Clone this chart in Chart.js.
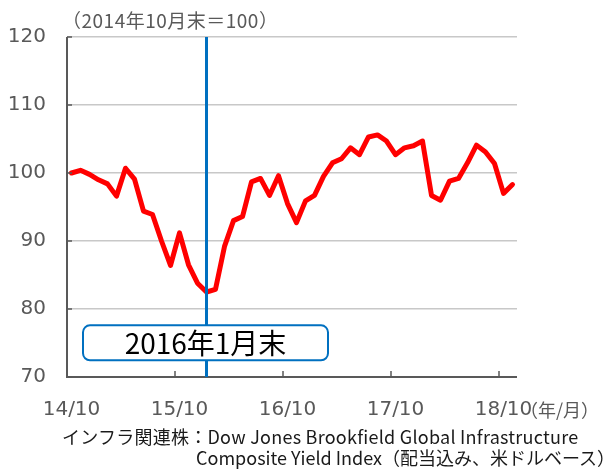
<!DOCTYPE html>
<html>
<head>
<meta charset="utf-8">
<script src="https://cdn.jsdelivr.net/npm/chart.js@4/dist/chart.umd.min.js"></script>
<style>
  html, body { margin: 0; padding: 0; background: #fff; }
  #wrap { position: relative; width: 608px; height: 469px; overflow: hidden; background: #fff; }
  #c { position: absolute; left: 0; top: 0; }
  .txt { position: absolute; white-space: nowrap; font-family: "Noto Sans CJK JP", "Noto Sans", sans-serif; }
</style>
</head>
<body>
<div id="wrap">
  <canvas id="c" width="608" height="469"></canvas>
  <div class="txt" id="unitTop" style="left:62px; top:6px; font-size:19px; letter-spacing:0.5px; color:#595959;">（2014年10月末＝100）</div>
  <div class="txt" id="unitX" style="left:520px; top:396px; font-size:18px; color:#595959;">（年/月）</div>
  <div class="txt" id="src1" style="left:62px; top:423px; font-size:18px; letter-spacing:0.25px; color:#1a1a1a;">インフラ関連株：Dow Jones Brookfield Global Infrastructure</div>
  <div class="txt" id="src2" style="left:196px; top:444px; font-size:18px; color:#1a1a1a;">Composite Yield Index（配当込み、米ドルベース）</div>
</div>
<script>
// ---- data ----
const categories = [
  '14/10','14/11','14/12',
  '15/01','15/02','15/03','15/04','15/05','15/06','15/07','15/08','15/09','15/10','15/11','15/12',
  '16/01','16/02','16/03','16/04','16/05','16/06','16/07','16/08','16/09','16/10','16/11','16/12',
  '17/01','17/02','17/03','17/04','17/05','17/06','17/07','17/08','17/09','17/10','17/11','17/12',
  '18/01','18/02','18/03','18/04','18/05','18/06','18/07','18/08','18/09','18/10','18/11'
];
const indexValues = [
  100.0,100.4,99.8,99.0,98.4,96.6,100.7,99.1,94.4,93.9,90.0,86.4,91.2,86.5,83.8,
  82.5,82.9,89.2,93.0,93.6,98.7,99.2,96.7,99.6,95.5,92.7,95.9,96.7,99.5,101.5,
  102.1,103.7,102.7,105.3,105.6,104.7,102.7,103.7,104.0,104.7,96.7,96.0,98.8,99.2,101.5,
  104.1,103.1,101.4,97.0,98.3
];
const yTicks = [70, 80, 90, 100, 110, 120];
const xTickLabels = ['14/10','15/10','16/10','17/10','18/10'];
const markerCategory = '16/01';
const markerLabel = '2016年1月末';

const AXIS = '#595959';
const BLUE = '#0070C0';

const overlay = {
  id: 'overlay',
  afterDatasetsDraw(chart) {
    const ctx = chart.ctx;
    const x = chart.scales.x, y = chart.scales.y;
    const a = chart.chartArea;
    ctx.save();
    ctx.strokeStyle = AXIS;
    ctx.lineWidth = 2;
    ctx.beginPath();
    ctx.moveTo(a.left, a.top);
    ctx.lineTo(a.left, a.bottom);
    ctx.lineTo(a.right, a.bottom);
    ctx.stroke();
    ctx.lineWidth = 1.5;
    yTicks.forEach(v => {
      const py = y.getPixelForValue(v);
      ctx.beginPath(); ctx.moveTo(a.left, py); ctx.lineTo(a.left + 5, py); ctx.stroke();
    });
    xTickLabels.forEach(lbl => {
      const i = categories.indexOf(lbl);
      if (i <= 0) return;
      const px = (x.getPixelForValue(i) + x.getPixelForValue(i - 1)) / 2;
      ctx.beginPath(); ctx.moveTo(px, a.bottom); ctx.lineTo(px, a.bottom - 6); ctx.stroke();
    });
    const mi = categories.indexOf(markerCategory);
    const mx = x.getPixelForValue(mi);
    ctx.strokeStyle = BLUE;
    ctx.lineWidth = 3;
    ctx.beginPath(); ctx.moveTo(mx, a.top); ctx.lineTo(mx, a.bottom); ctx.stroke();
    const bw = 245, bh = 35;
    const bx = mx - bw / 2 - 1, by = y.getPixelForValue(77.6);
    ctx.beginPath();
    ctx.roundRect(bx, by, bw, bh, 7);
    ctx.fillStyle = '#fff';
    ctx.fill();
    ctx.lineWidth = 2;
    ctx.strokeStyle = BLUE;
    ctx.stroke();
    ctx.fillStyle = '#000';
    ctx.font = '28px "Noto Sans CJK JP", sans-serif';
    ctx.textAlign = 'center';
    ctx.textBaseline = 'middle';
    ctx.fillText(markerLabel, bx + bw / 2, by + bh / 2 + 1);
    ctx.restore();
  }
};

new Chart(document.getElementById('c'), {
  type: 'line',
  data: {
    labels: categories,
    datasets: [{
      data: indexValues,
      borderColor: '#FF0000',
      borderWidth: 5,
      pointRadius: 0,
      tension: 0,
      borderJoinStyle: 'round',
      borderCapStyle: 'round',
      fill: false
    }]
  },
  options: {
    responsive: false,
    animation: false,
    devicePixelRatio: 1,
    layout: { padding: { top: 37, right: 91, left: 0, bottom: 0 } },
    plugins: { legend: { display: false }, tooltip: { enabled: false } },
    scales: {
      x: {
        type: 'category',
        offset: true,
        grid: { display: false, drawTicks: false },
        border: { display: false },
        ticks: {
          autoSkip: false,
          maxRotation: 0,
          padding: 21,
          color: AXIS,
          font: { family: '"DejaVu Sans", Verdana, sans-serif', size: 20 },
          callback(v, i) { const l = categories[i]; return xTickLabels.includes(l) ? l : ''; }
        },
        afterFit(s) { s.height = 92; }
      },
      y: {
        min: 70, max: 120,
        afterBuildTicks(s) { s.ticks = yTicks.map(v => ({ value: v })); },
        grid: { color: '#C8C8C8', lineWidth: 1.5, drawTicks: false },
        border: { display: false },
        ticks: {
          padding: 21,
          color: AXIS,
          font: { family: '"DejaVu Sans", Verdana, sans-serif', size: 20 }
        },
        afterFit(s) { s.width = 67; }
      }
    }
  },
  plugins: [overlay]
});
</script>
</body>
</html>
